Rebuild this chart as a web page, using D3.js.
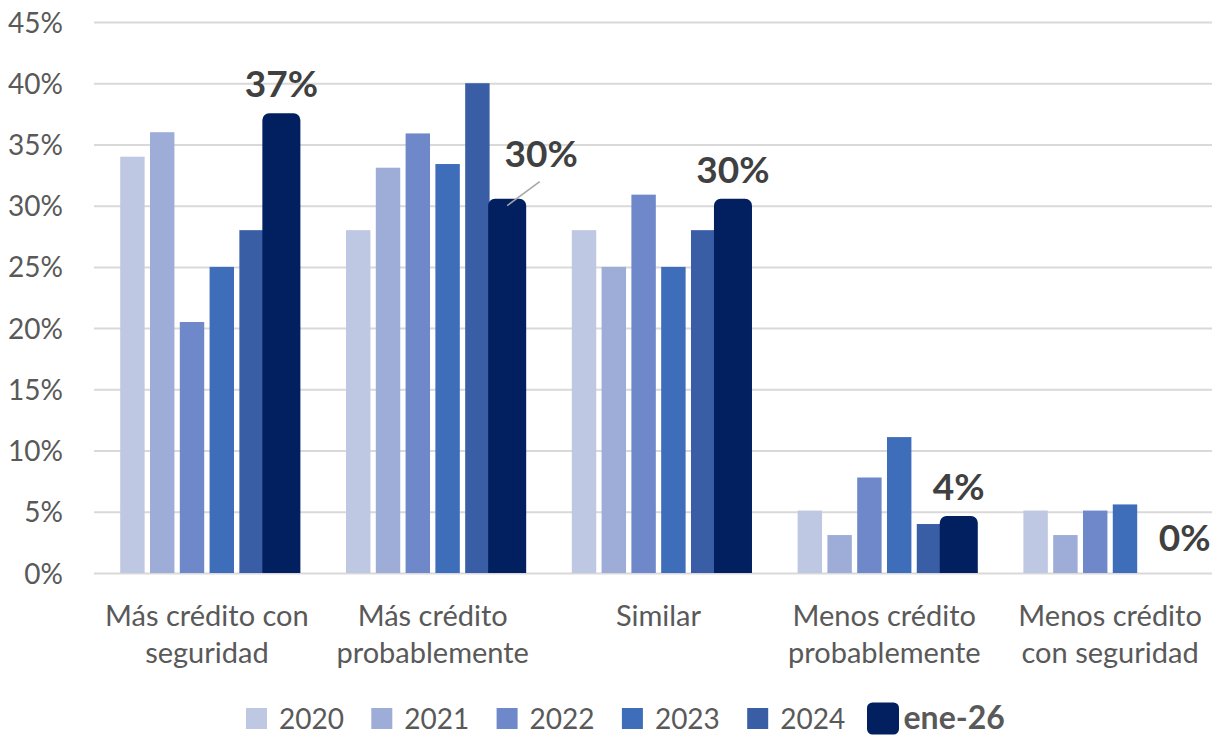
<!DOCTYPE html>
<html><head><meta charset="utf-8">
<script src="https://cdn.jsdelivr.net/npm/d3@7"></script>
<style>body{margin:0;background:#fff}svg{display:block;font-family:Lato,"Open Sans",sans-serif}</style>
</head><body><svg id="c" width="1212" height="736"></svg>
<script>
// ---- data ----
const categories = ["Más crédito con seguridad","Más crédito probablemente","Similar","Menos crédito probablemente","Menos crédito con seguridad"];
const categoryLines = [["Más crédito con","seguridad"],["Más crédito","probablemente"],["Similar"],["Menos crédito","probablemente"],["Menos crédito","con seguridad"]];
const series = ["2020","2021","2022","2023","2024","ene-26"];
const v2020 = [34.0, 28.0, 28.0, 5.1, 5.1];
const v2021 = [36.0, 33.1, 25.0, 3.1, 3.1];
const v2022 = [20.5, 35.9, 30.9, 7.8, 5.1];
const v2023 = [25.0, 33.4, 25.0, 11.1, 5.6];
const v2024 = [28.0, 40.0, 28.0, 4.0, 0];
const vEne26 = [37.0, 30.0, 30.0, 4.1, 0];
const ene26Labels = ["37%","30%","30%","4%","0%"];
const yTicks = [0,5,10,15,20,25,30,35,40,45];
const values = [v2020, v2021, v2022, v2023, v2024, vEne26];

// ---- styles ----
const colors = ["#BFC8E3","#9DADD8","#6E88CA","#3E6DBA","#3A5EA6","#02205F"];
const svg = d3.select("#c");
const pLeft = 94, pRight = 1223, pTop = 22, pBottom = 573;

const x0 = d3.scaleBand().domain(categories).range([pLeft, pRight]).padding(0);
const x1 = d3.scaleBand().domain(series).range([0, x0.bandwidth()]).paddingInner(0.18).paddingOuter(0.88);
const y = d3.scaleLinear().domain([0, 45]).range([pBottom, pTop]);

// y axis + gridlines
const yAxis = svg.append("g").attr("transform", `translate(${pLeft},0)`)
  .call(d3.axisLeft(y).tickValues(yTicks).tickSize(-(pRight-pLeft)).tickPadding(31).tickFormat(d => d + "%"));
yAxis.select(".domain").remove();
yAxis.selectAll(".tick line").attr("stroke", "#d9d9d9").attr("stroke-width", 2);
yAxis.selectAll(".tick text").attr("fill", "#595959").style("font-size", "28px").style("font-family", "Lato").attr("dy", "0.36em");

// clip
svg.append("defs").append("clipPath").attr("id", "plot")
  .append("rect").attr("x", pLeft).attr("y", 0).attr("width", pRight-pLeft).attr("height", pBottom);

const bars = svg.append("g").attr("clip-path", "url(#plot)");
series.forEach((s, i) => {
  const g = bars.append("g");
  categories.forEach((c, j) => {
    const v = values[i][j];
    if (v <= 0) return;
    const r = g.append("rect")
      .attr("x", x0(c) + x1(s))
      .attr("y", y(v))
      .attr("width", x1.bandwidth())
      .attr("height", y(0) - y(v))
      .attr("fill", colors[i]);
    if (s === "ene-26") {
      r.attr("stroke", colors[i]).attr("stroke-width", 13.6).attr("stroke-linejoin", "round");
    }
  });
});

// x axis labels
const xAxis = svg.append("g").attr("transform", `translate(0,${pBottom})`)
  .call(d3.axisBottom(x0).tickSize(0).tickFormat(""));
xAxis.select(".domain").remove();
xAxis.selectAll(".tick").each(function(d, k) {
  const t = d3.select(this).append("text").attr("fill", "#595959").attr("text-anchor", "middle")
    .style("font-size", "29px").style("font-family", "Lato");
  categoryLines[k].forEach((line, li) => {
    t.append("tspan").attr("x", 0).attr("y", 53 + li * 36.5).text(line);
  });
});

// data labels for ene-26
const nudges = [[0,0],[34,-16],[0,0],[0,0],[0,0]];
const last = series.length - 1;
categories.forEach((c, j) => {
  const v = values[last][j];
  const cx = x0(c) + x1(series[last]) + x1.bandwidth()/2;
  const by = y(v) - 22.5;
  if (j === 1) {
    svg.append("line").attr("x1", cx).attr("y1", y(v)).attr("x2", cx + 32.5).attr("y2", y(v) - 24)
      .attr("stroke", "#a6a6a6").attr("stroke-width", 1.5);
  }
  svg.append("text").attr("x", cx + nudges[j][0]).attr("y", by + nudges[j][1])
    .attr("text-anchor", "middle").attr("fill", "#404040")
    .style("font-size", "37px").style("font-weight", "700").style("font-family", "Lato")
    .text(ene26Labels[j]);
});

// legend
const legend = svg.append("g");
series.forEach((s, i) => {
  const lx = 246 + i * 125.3;
  const sw = legend.append("rect").attr("x", lx).attr("y", 708).attr("width", 21).attr("height", 21).attr("fill", colors[i]);
  const isLast = i === last;
  if (isLast) sw.attr("stroke", colors[i]).attr("stroke-width", 11).attr("stroke-linejoin", "round");
  legend.append("text").attr("x", lx + (isLast ? 31 : 33)).attr("y", 729)
    .attr("fill", "#595959").style("font-size", isLast ? "32px" : "28px")
    .style("font-weight", isLast ? "700" : "400").style("font-family", "Lato")
    .text(s);
});
</script></body></html>
